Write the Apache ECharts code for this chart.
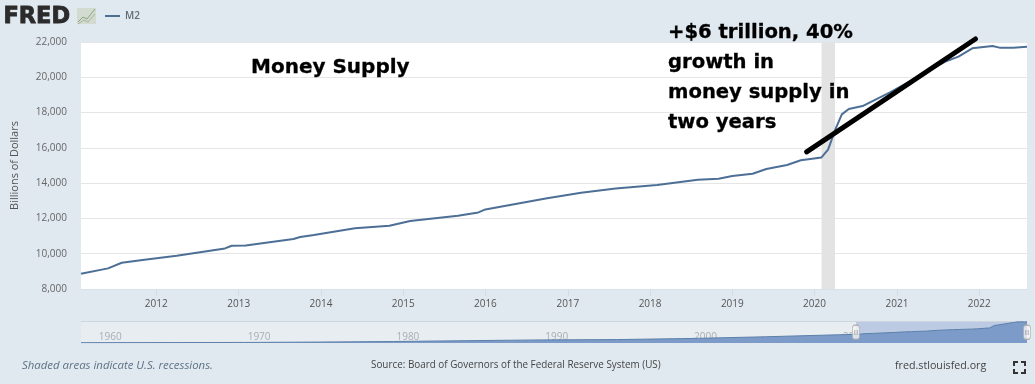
<!DOCTYPE html>
<html>
<head>
<meta charset="utf-8">
<script src="https://cdn.jsdelivr.net/npm/echarts@6/dist/echarts.min.js"></script>
<style>
  html, body { margin: 0; padding: 0; background: #e1e9f0; }
  #chart { width: 1035px; height: 384px; }
</style>
</head>
<body>
<div id="chart"></div>
<script>
// M2, billions of dollars
const m2Dates = ['2011-02','2011-06','2011-08','2011-11','2012-04','2012-11','2012-12','2013-02','2013-09','2013-10','2013-12','2014-06','2014-11','2015-02','2015-09','2015-12','2016-01','2016-04','2016-10','2017-03','2017-08','2018-02','2018-08','2018-11','2019-01','2019-04','2019-06','2019-09','2019-11','2020-02','2020-03','2020-04','2020-05','2020-06','2020-08','2020-12','2021-08','2021-10','2021-12','2022-03','2022-04','2022-06','2022-08'];
const m2Values = [8863,9170,9490,9640,9880,10300,10450,10470,10830,10945,11060,11440,11590,11850,12150,12340,12510,12720,13140,13460,13700,13890,14190,14250,14400,14530,14800,15030,15300,15460,15900,17000,17900,18200,18370,19150,20880,21170,21640,21770,21680,21680,21730];

// full history shown in the navigator, before the main plot starts
const historyDates = ['1959-01','1965-01','1970-01','1975-01','1980-01','1985-01','1990-01','1995-01','2000-01','2005-01','2010-01'];
const historyValues = [290,440,590,960,1540,2400,3170,3500,4650,6400,8500];

const xTickYears = [2012,2013,2014,2015,2016,2017,2018,2019,2020,2021,2022];
const navTickYears = [1960,1970,1980,1990,2000,2010,2020];

const recession = ['2020-02','2020-04'];
const viewRange = ['2011-02','2022-08'];

// hand drawn stroke on the screenshot
const strokeDates = ['2019-11-27','2021-12-15'];
const strokeValues = [15770,22170];

const YEAR_MS = 365 * 24 * 3600 * 1000;
const t = Date.parse;
const toPairs = (dates, values) => dates.map((d, i) => [t(d), values[i]]);
const textFont = '"Open Sans", sans-serif';

// only January ticks of the listed years get a label
function yearLabel(years) {
  return function (v) {
    const d = new Date(v);
    const y = d.getUTCFullYear();
    return d.getUTCMonth() === 0 && d.getUTCDate() === 1 && years.indexOf(y) >= 0 ? String(y) : '';
  };
}

const myChart = echarts.init(document.getElementById('chart'));

const option = {
  useUTC: true,
  animation: false,
  backgroundColor: '#e1e9f0',
  textStyle: { fontFamily: textFont },
  legend: {
    data: ['M2'],
    left: 100,
    top: 6,
    icon: 'rect',
    itemWidth: 15,
    itemHeight: 2,
    itemGap: 4,
    textStyle: { color: '#5f6b76', fontSize: 10, fontFamily: textFont, fontWeight: 600 }
  },
  grid: [
    { left: 81, top: 42, width: 946, height: 247, show: true, backgroundColor: '#fff', borderWidth: 0 },
    { left: 81, top: 321, width: 946, height: 22, show: true, backgroundColor: '#e8edf2', borderWidth: 0 }
  ],
  xAxis: [
    {
      type: 'time',
      gridIndex: 0,
      min: t(viewRange[0]),
      max: t(viewRange[1]),
      minInterval: YEAR_MS,
      maxInterval: YEAR_MS,
      axisLine: { show: true, lineStyle: { color: '#d9e0e6' } },
      axisTick: { show: true, length: 7, lineStyle: { color: '#d5dce2' } },
      axisLabel: {
        formatter: yearLabel(xTickYears),
        color: '#555',
        fontSize: 10,
        margin: 10,
        hideOverlap: false
      },
      splitLine: { show: false }
    },
    {
      type: 'time',
      gridIndex: 1,
      min: t('1959-01'),
      max: t(viewRange[1]),
      minInterval: YEAR_MS,
      maxInterval: YEAR_MS,
      axisLine: { show: false },
      axisTick: { show: false },
      axisLabel: {
        inside: true,
        formatter: yearLabel(navTickYears),
        color: '#a8aeb4',
        fontSize: 10,
        align: 'left',
        margin: 1,
        padding: [0, 0, 0, 3],
        hideOverlap: false
      },
      splitLine: { show: false }
    }
  ],
  yAxis: [
    {
      type: 'value',
      gridIndex: 0,
      min: 8000,
      max: 22000,
      interval: 2000,
      name: 'Billions of Dollars',
      nameLocation: 'middle',
      nameGap: 61,
      nameTextStyle: { color: '#555', fontSize: 11, fontFamily: textFont },
      axisLine: { show: false },
      axisTick: { show: false },
      axisLabel: {
        color: '#666',
        fontSize: 10,
        margin: 14,
        formatter: v => v.toLocaleString('en-US')
      },
      splitLine: { show: true, lineStyle: { color: '#e6e6e6' } }
    },
    {
      type: 'value',
      gridIndex: 1,
      min: 0,
      max: 22600,
      show: false
    }
  ],
  series: [
    {
      name: 'M2',
      type: 'line',
      xAxisIndex: 0,
      yAxisIndex: 0,
      data: toPairs(m2Dates, m2Values),
      showSymbol: false,
      color: '#4d6f96',
      lineStyle: { width: 2, color: '#4d6f96' },
      z: 3,
      markArea: {
        silent: true,
        itemStyle: { color: '#e3e3e3', opacity: 1 },
        data: [[{ xAxis: t(recession[0]) }, { xAxis: t(recession[1]) }]]
      }
    },
    {
      name: 'stroke',
      type: 'line',
      xAxisIndex: 0,
      yAxisIndex: 0,
      data: toPairs(strokeDates, strokeValues),
      clip: false,
      showSymbol: false,
      lineStyle: { width: 5, color: '#000', cap: 'round' },
      z: 5
    },
    {
      name: 'navigator',
      type: 'line',
      xAxisIndex: 1,
      yAxisIndex: 1,
      data: toPairs(historyDates.concat(m2Dates), historyValues.concat(m2Values)),
      showSymbol: false,
      lineStyle: { width: 1, color: '#5c80aa' },
      areaStyle: { color: '#7d9bc8', opacity: 1 },
      z: 3,
      markArea: {
        silent: true,
        itemStyle: { color: '#bccbe3', opacity: 1 },
        data: [[{ xAxis: t(viewRange[0]) }, { xAxis: t(viewRange[1]) }]]
      }
    },
    {
      name: 'handles',
      type: 'scatter',
      xAxisIndex: 1,
      yAxisIndex: 1,
      clip: false,
      symbol: 'roundRect',
      symbolSize: [7, 14],
      itemStyle: { color: '#f4f4f4', borderColor: '#a9a9a9', borderWidth: 1 },
      label: { show: true, position: 'inside', formatter: 'II', color: '#777', fontSize: 8 },
      data: viewRange.map(d => [t(d), 11000]),
      z: 6
    }
  ],
  graphic: [
    { type: 'text', left: 3, top: 5, z: 20, style: { text: 'FRED', fill: '#2b2b2b', stroke: '#2b2b2b', lineWidth: 0.8, font: '900 22.5px "DejaVu Sans"' } },
    { type: 'rect', shape: { x: 77, y: 8, width: 19, height: 16 }, z: 20, style: { fill: '#d3dbd0' } },
    { type: 'polyline', shape: { points: [[78, 22], [83, 17], [87, 19], [95, 9]] }, z: 21, style: { fill: 'none', stroke: '#8aa184', lineWidth: 1 } },
    { type: 'polyline', shape: { points: [[78, 24], [84, 20], [88, 22], [95, 14]] }, z: 21, style: { fill: 'none', stroke: '#a3b49e', lineWidth: 1 } },

    { type: 'text', x: 251, y: 58, z: 20, style: { text: 'Money Supply', fill: '#000', stroke: '#000', lineWidth: 0.3, font: 'bold 20px "DejaVu Sans"' } },
    { type: 'text', x: 668, y: 18, z: 20, style: { text: '+$6 trillion, 40%\ngrowth in\nmoney supply in\ntwo years', fill: '#000', stroke: '#000', lineWidth: 0.3, font: 'bold 19.6px "DejaVu Sans"', lineHeight: 30 } },

    { type: 'line', shape: { x1: 81, y1: 321.5, x2: 1027, y2: 321.5 }, z: 2, style: { stroke: '#cfd6dc', lineWidth: 1 } },

    { type: 'text', x: 22, y: 360, z: 20, style: { text: 'Shaded areas indicate U.S. recessions.', fill: '#5d7286', font: 'italic 11.4px "Open Sans"' } },
    { type: 'text', x: 371, y: 360, z: 20, style: { text: 'Source: Board of Governors of the Federal Reserve System (US)', fill: '#444', font: '9.9px "Open Sans"' } },
    { type: 'text', x: 895, y: 360, z: 20, style: { text: 'fred.stlouisfed.org', fill: '#444', font: '10.7px "Open Sans"' } },

    // fullscreen icon
    { type: 'polyline', shape: { points: [[1014, 366], [1014, 362], [1018, 362]] }, z: 20, style: { fill: 'none', stroke: '#333', lineWidth: 2 } },
    { type: 'polyline', shape: { points: [[1021, 362], [1025, 362], [1025, 366]] }, z: 20, style: { fill: 'none', stroke: '#333', lineWidth: 2 } },
    { type: 'polyline', shape: { points: [[1014, 369], [1014, 373], [1018, 373]] }, z: 20, style: { fill: 'none', stroke: '#333', lineWidth: 2 } },
    { type: 'polyline', shape: { points: [[1021, 373], [1025, 373], [1025, 369]] }, z: 20, style: { fill: 'none', stroke: '#333', lineWidth: 2 } }
  ]
};

myChart.setOption(option);
</script>
</body>
</html>
